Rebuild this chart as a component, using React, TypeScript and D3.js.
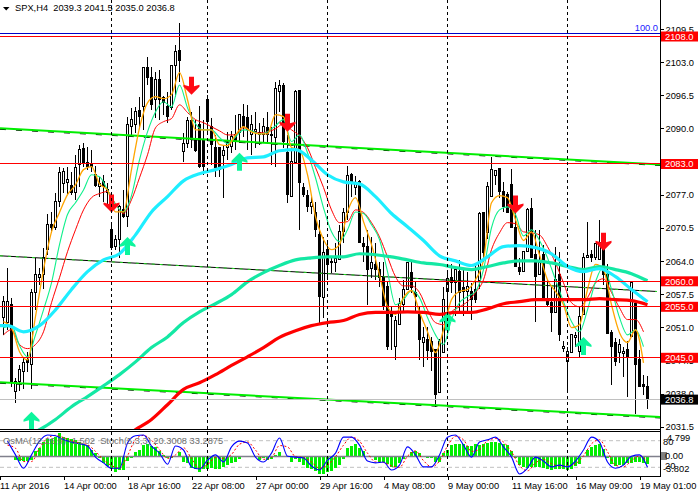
import React, { useEffect, useRef } from "react";
import * as d3 from "d3";

// SPX H4 candles
const opens = [
  2052.9, 2051.9, 2055.4, 2038.4, 2040.3, 2042.3, 2044.6, 2043.7, 2057.8, 2060.7,
  2061.3, 2066.2, 2071.1, 2070.5, 2075.6, 2079.1, 2079.3, 2078.7, 2077.4, 2082.9,
  2086.0, 2083.2, 2082.9, 2080.9, 2078.5, 2079.5, 2077.4, 2070.1, 2066.8, 2068.2,
  2074.0, 2072.7, 2090.3, 2090.7, 2093.4, 2094.2, 2101.9, 2099.9, 2095.6, 2099.5,
  2096.0, 2094.2, 2094.0, 2102.3, 2105.2, 2085.4, 2087.0, 2091.5, 2087.8, 2090.7,
  2087.8, 2095.6, 2090.3, 2086.2, 2086.2, 2084.6, 2086.2, 2086.4, 2088.7, 2089.1,
  2092.3, 2092.1, 2088.7, 2089.3, 2088.7, 2088.7, 2090.1, 2088.7, 2088.3, 2097.2,
  2098.3, 2085.2, 2076.6, 2083.2, 2097.4, 2078.4, 2076.8, 2074.6, 2073.5, 2069.1,
  2056.8, 2066.2, 2063.8, 2063.7, 2064.2, 2069.7, 2073.5, 2080.9, 2078.4, 2079.5,
  2067.4, 2066.8, 2062.5, 2063.3, 2062.3, 2060.7, 2058.9, 2053.9, 2047.2, 2051.5,
  2055.4, 2058.4, 2061.7, 2057.8, 2053.5, 2048.0, 2048.6, 2048.2, 2046.6, 2038.2,
  2046.0, 2058.0, 2060.7, 2059.7, 2061.9, 2058.8, 2058.0, 2058.0, 2058.4, 2060.1,
  2073.5, 2069.5, 2076.6, 2080.7, 2082.1, 2077.6, 2077.0, 2078.9, 2070.5, 2062.7,
  2061.9, 2065.8, 2074.2, 2065.2, 2061.3, 2065.2, 2056.4, 2055.8, 2053.9, 2061.3,
  2046.8, 2044.2, 2046.0, 2048.9, 2046.2, 2053.5, 2064.6, 2065.2, 2064.6, 2064.2,
  2066.2, 2061.3, 2049.9, 2048.0, 2046.0, 2045.8, 2046.6, 2049.1, 2055.6, 2044.6,
  2039.7, 2039.3,
];
const highs = [
  2057.2, 2062.7, 2056.8, 2041.1, 2043.5, 2045.0, 2046.2, 2058.4, 2064.6, 2062.7,
  2066.6, 2073.1, 2073.5, 2077.4, 2082.5, 2082.3, 2082.5, 2081.5, 2084.8, 2086.8,
  2087.2, 2086.4, 2085.8, 2082.7, 2080.5, 2080.9, 2079.3, 2071.7, 2069.1, 2075.0,
  2078.0, 2092.3, 2094.0, 2094.2, 2096.2, 2102.1, 2104.0, 2102.1, 2101.1, 2101.5,
  2096.4, 2097.2, 2102.3, 2106.4, 2110.7, 2089.1, 2092.3, 2093.1, 2091.7, 2094.4,
  2091.7, 2096.6, 2092.1, 2088.7, 2086.4, 2086.8, 2089.3, 2089.5, 2092.7, 2092.7,
  2094.8, 2094.6, 2092.7, 2093.1, 2091.1, 2092.1, 2093.1, 2090.3, 2099.1, 2099.5,
  2098.9, 2088.7, 2086.2, 2097.6, 2097.4, 2079.3, 2078.0, 2076.6, 2075.6, 2072.1,
  2068.7, 2067.6, 2064.8, 2067.6, 2071.1, 2074.4, 2082.7, 2081.3, 2080.7, 2079.9,
  2068.6, 2070.1, 2068.7, 2067.6, 2063.7, 2063.7, 2059.9, 2055.0, 2053.1, 2056.8,
  2060.3, 2063.8, 2063.7, 2059.9, 2055.0, 2051.1, 2051.1, 2049.1, 2046.6, 2048.6,
  2058.9, 2062.3, 2063.3, 2062.7, 2064.2, 2062.3, 2061.9, 2059.7, 2063.3, 2073.6,
  2073.5, 2079.5, 2084.4, 2081.9, 2082.1, 2079.5, 2077.6, 2082.1, 2073.6, 2064.6,
  2065.8, 2074.4, 2076.4, 2070.1, 2070.1, 2067.2, 2060.3, 2058.8, 2066.8, 2065.8,
  2048.2, 2047.2, 2049.5, 2050.1, 2055.0, 2065.6, 2071.7, 2066.2, 2067.4, 2072.1,
  2068.2, 2063.3, 2050.5, 2048.9, 2048.6, 2047.2, 2048.2, 2059.9, 2056.4, 2046.6,
  2041.7, 2041.5,
];
const lows = [
  2049.5, 2050.5, 2039.2, 2036.2, 2038.4, 2038.8, 2042.3, 2038.8, 2054.4, 2059.3,
  2058.4, 2065.2, 2069.5, 2070.1, 2074.6, 2077.4, 2077.2, 2077.0, 2076.0, 2078.5,
  2082.5, 2081.9, 2081.5, 2078.5, 2076.6, 2075.6, 2075.0, 2066.2, 2066.2, 2064.6,
  2072.5, 2070.7, 2088.3, 2089.1, 2090.1, 2089.7, 2098.5, 2093.6, 2092.1, 2091.7,
  2092.7, 2091.1, 2093.6, 2096.2, 2099.1, 2083.4, 2086.2, 2086.2, 2085.4, 2082.3,
  2080.9, 2088.7, 2082.9, 2080.5, 2080.5, 2076.4, 2083.8, 2085.2, 2085.8, 2087.2,
  2088.3, 2085.8, 2084.8, 2086.2, 2086.8, 2087.4, 2087.2, 2082.9, 2082.5, 2093.1,
  2086.2, 2075.4, 2076.6, 2083.2, 2070.1, 2076.6, 2073.5, 2073.1, 2068.7, 2051.9,
  2052.9, 2060.3, 2061.7, 2061.9, 2064.2, 2067.6, 2072.1, 2076.6, 2077.0, 2067.6,
  2063.7, 2055.4, 2060.7, 2060.3, 2058.9, 2054.4, 2046.6, 2046.6, 2044.6, 2051.5,
  2053.9, 2058.4, 2057.8, 2053.9, 2044.6, 2043.1, 2044.6, 2042.5, 2035.4, 2038.2,
  2046.0, 2050.5, 2057.8, 2053.1, 2053.5, 2053.1, 2053.9, 2052.5, 2055.8, 2058.4,
  2063.7, 2068.2, 2076.6, 2078.9, 2076.4, 2073.5, 2073.5, 2070.5, 2062.9, 2061.3,
  2061.9, 2065.8, 2064.6, 2052.1, 2061.3, 2056.4, 2055.0, 2050.1, 2053.9, 2048.2,
  2046.2, 2038.4, 2046.0, 2047.2, 2045.2, 2053.5, 2064.6, 2063.8, 2064.2, 2064.2,
  2059.3, 2049.7, 2039.7, 2043.3, 2044.0, 2041.3, 2037.4, 2049.1, 2033.9, 2039.2,
  2037.8, 2035.0,
];
const closes = [
  2056.0, 2056.0, 2040.3, 2040.3, 2042.7, 2044.1, 2044.1, 2057.8, 2061.3, 2061.3,
  2064.6, 2071.1, 2070.5, 2075.6, 2081.3, 2081.5, 2079.9, 2077.4, 2082.3, 2085.8,
  2083.2, 2082.5, 2082.5, 2078.7, 2079.1, 2078.5, 2078.0, 2066.6, 2068.2, 2074.6,
  2072.7, 2090.7, 2091.7, 2093.2, 2092.3, 2101.9, 2099.9, 2094.6, 2099.5, 2095.6,
  2095.0, 2092.3, 2102.3, 2105.0, 2103.2, 2087.0, 2091.5, 2087.8, 2085.6, 2082.5,
  2082.5, 2091.3, 2086.8, 2082.3, 2081.9, 2085.6, 2087.2, 2088.3, 2087.6, 2092.7,
  2090.3, 2089.7, 2090.7, 2089.7, 2089.1, 2090.3, 2088.7, 2088.5, 2097.9, 2098.3,
  2087.4, 2077.0, 2083.4, 2097.2, 2079.3, 2077.0, 2074.6, 2075.4, 2070.1, 2057.0,
  2065.6, 2063.3, 2063.7, 2064.4, 2069.7, 2073.5, 2080.7, 2079.3, 2079.1, 2067.6,
  2066.8, 2062.3, 2063.7, 2062.3, 2060.7, 2055.0, 2047.2, 2053.1, 2052.3, 2055.6,
  2058.4, 2063.7, 2058.8, 2057.0, 2048.6, 2048.9, 2046.4, 2046.2, 2037.8, 2048.2,
  2056.4, 2060.5, 2059.7, 2062.3, 2057.8, 2058.0, 2058.9, 2056.4, 2056.4, 2073.3,
  2065.6, 2078.5, 2081.9, 2081.7, 2077.6, 2074.6, 2073.5, 2070.5, 2062.9, 2061.9,
  2065.8, 2074.0, 2064.6, 2060.9, 2063.7, 2056.4, 2055.4, 2053.9, 2060.3, 2049.5,
  2047.2, 2046.2, 2049.5, 2049.3, 2053.1, 2064.6, 2065.0, 2064.6, 2067.4, 2067.6,
  2061.3, 2049.7, 2047.2, 2044.2, 2047.6, 2046.2, 2045.0, 2059.7, 2043.7, 2039.3,
  2039.3, 2036.8,
];

// moving averages, thick ones read every 4 bars, thin ones every 2 bars
const maCyan = [
  2051.3, 2051.3, 2050.1, 2051.3, 2054.4, 2058.4, 2061.9, 2064.2, 2065.4, 2069.1,
  2073.6, 2076.6, 2079.7, 2081.1, 2081.9, 2082.9, 2084.2, 2084.4, 2085.6, 2085.8,
  2083.8, 2080.9, 2079.5, 2079.1, 2076.6, 2073.3, 2070.7, 2068.0, 2065.0, 2064.0,
  2063.1, 2064.8, 2066.8, 2067.0, 2066.6, 2065.4, 2062.9, 2061.9, 2062.5, 2060.9,
  2058.4, 2056.0,
];
const maTeal = [
  2029.4, 2030.9, 2032.9, 2035.4, 2037.4, 2039.5, 2041.7, 2044.2, 2047.0, 2049.1,
  2051.9, 2054.0, 2055.6, 2057.4, 2059.9, 2061.7, 2063.1, 2064.2, 2064.6, 2064.8,
  2064.8, 2065.4, 2065.2, 2064.8, 2064.2, 2063.6, 2063.3, 2062.7, 2062.3, 2062.9,
  2063.6, 2064.0, 2064.0, 2063.6, 2062.9, 2062.3, 2062.9, 2062.3, 2061.5, 2060.1,
];
const maRedThick = [
  2028.9, 2030.9, 2032.9, 2035.8, 2038.8, 2040.1, 2041.7, 2043.5, 2045.2, 2047.0,
  2049.0, 2050.3, 2051.3, 2051.9, 2052.3, 2053.5, 2053.9, 2053.9, 2054.0, 2053.9,
  2053.5, 2053.9, 2053.9, 2054.6, 2055.6, 2056.0, 2056.4, 2056.4, 2056.4, 2056.4,
  2056.6, 2056.4, 2056.2, 2055.4,
];
const maOrange = [
  2052.1, 2050.9, 2046.2, 2044.6, 2053.1, 2062.3, 2069.7, 2073.5, 2077.0, 2078.9,
  2081.9, 2082.5, 2079.1, 2077.9, 2073.6, 2073.6, 2081.9, 2090.1, 2095.0, 2096.2,
  2095.8, 2096.6, 2100.9, 2095.6, 2089.7, 2089.7, 2089.7, 2086.8, 2086.6, 2088.7,
  2090.3, 2089.3, 2088.9, 2088.9, 2092.7, 2092.3, 2086.2, 2085.8, 2080.9, 2072.7,
  2068.2, 2066.2, 2067.2, 2073.6, 2076.4, 2071.7, 2067.2, 2061.3, 2055.0, 2053.5,
  2056.8, 2058.2, 2054.0, 2050.1, 2046.0, 2050.5, 2056.4, 2058.0, 2058.4, 2060.3,
  2064.2, 2075.4, 2076.8, 2076.4, 2072.1, 2068.0, 2069.7, 2065.2, 2060.3, 2058.0,
  2055.4, 2050.9, 2051.5, 2058.4, 2063.3, 2062.3, 2055.4, 2049.9, 2048.0, 2050.5,
  2044.0,
];
const maGreen = [
  2050.9, 2051.3, 2047.4, 2045.2, 2049.5, 2054.4, 2059.7, 2067.2, 2073.1, 2075.4,
  2077.9, 2080.9, 2080.5, 2077.9, 2075.0, 2073.6, 2076.8, 2083.8, 2089.3, 2093.2,
  2095.2, 2094.2, 2098.5, 2094.0, 2090.9, 2089.7, 2089.7, 2088.2, 2087.0, 2088.3,
  2089.7, 2089.5, 2088.9, 2089.3, 2090.5, 2091.7, 2087.4, 2088.7, 2085.2, 2080.3,
  2074.4, 2069.7, 2067.8, 2070.1, 2073.6, 2073.3, 2071.1, 2068.2, 2061.9, 2055.4,
  2056.4, 2058.2, 2056.8, 2052.9, 2049.5, 2047.6, 2052.5, 2055.8, 2057.0, 2058.0,
  2062.3, 2070.5, 2074.0, 2074.6, 2073.1, 2068.9, 2070.1, 2068.0, 2064.6, 2060.3,
  2056.0, 2052.1, 2050.1, 2054.4, 2059.9, 2062.9, 2058.4, 2052.9, 2049.5, 2050.5,
  2047.2,
];
const maRedThin = [
  2049.5, 2050.5, 2047.6, 2046.8, 2047.6, 2050.1, 2055.8, 2060.7, 2065.8, 2070.1,
  2074.0, 2076.4, 2077.2, 2077.6, 2075.2, 2073.3, 2076.0, 2080.3, 2084.8, 2090.1,
  2091.3, 2091.9, 2094.6, 2093.1, 2091.7, 2091.1, 2090.3, 2089.5, 2088.7, 2088.7,
  2090.1, 2089.5, 2089.1, 2089.3, 2089.9, 2090.9, 2089.7, 2088.5, 2086.2, 2082.3,
  2078.4, 2074.0, 2071.5, 2071.7, 2074.0, 2073.5, 2071.5, 2068.7, 2064.8, 2060.9,
  2059.1, 2059.1, 2057.8, 2054.4, 2051.9, 2051.5, 2054.0, 2055.0, 2056.0, 2057.8,
  2060.3, 2066.2, 2069.5, 2071.5, 2071.3, 2069.7, 2069.5, 2069.1, 2066.8, 2063.6,
  2059.7, 2055.8, 2055.0, 2056.8, 2059.7, 2060.5, 2057.8, 2054.8, 2052.5, 2052.5,
  2050.1,
];

// OsMA histogram, one value per bar
const osma = [
  0.2, 0.2, 0.0, -0.6, -0.8, -0.8, -0.8, -0.6, 1.0, 1.6,
  2.9, 3.5, 3.5, 3.9, 4.6, 3.9, 3.7, 3.5, 3.3, 2.9,
  2.5, 2.2, 1.2, 0.6, -0.2, -1.2, -1.8, -2.4, -3.1, -2.7,
  -2.7, -0.8, -0.2, 0.8, 1.2, 2.2, 2.4, 2.0, 1.8, 1.0,
  0.4, -0.2, -0.2, 0.2, 0.8, -1.0, -1.2, -2.2, -2.4, -3.1,
  -2.5, -2.5, -2.2, -2.4, -2.4, -2.0, -1.6, -1.2, -1.0, -0.4,
  0, 0, 0, 0, -0.6, -0.2, -0.6, -0.4, 0.4, 0.8,
  0.2, 0, -1.0, -0.4, -1.0, -1.6, -2.2, -2.5, -2.9, -3.5,
  -3.5, -3.1, -2.9, -2.2, -1.6, -0.4, 1.6, 2.0, 2.4, 1.6,
  1.0, 0.2, 0, -0.6, -1.0, -1.0, -1.4, -2.0, -2.0, -1.2,
  -0.4, 0.2, 0.8, 1.0, 0.6, 0, -0.2, -0.2, -1.0, -1.0,
  0.6, 1.2, 2.2, 2.5, 2.5, 2.5, 2.0, 2.0, 2.4, 2.2,
  2.4, 2.7, 2.9, 2.9, 2.7, 2.4, 2.2, 1.0, -0.2, -1.6,
  -2.0, -2.2, -2.0, -2.0, -2.0, -2.2, -2.4, -2.7, -2.4, -2.4,
  -2.5, -2.7, -2.4, -1.8, -1.4, 0, 1.2, 1.8, 2.2, 2.4,
  1.4, -0.2, -1.4, -1.8, -1.6, -1.6, -1.2, -1.2, -1.0, -1.0,
  -1.2, -1.502,
];
// Stochastic, read every 2 bars
const stochMain = [
  79, 48, 18, 48, 79, 93, 91, 82, 77, 73,
  68, 43, 30, 18, 18, 75, 91, 93, 68, 52,
  27, 68, 59, 21, 16, 36, 48, 32, 66, 79,
  75, 43, 32, 52, 86, 45, 43, 41, 23, 14,
  36, 52, 88, 88, 70, 34, 30, 32, 14, 25,
  66, 48, 21, 21, 48, 88, 93, 70, 43, 77,
  82, 88, 66, 43, 5, 18, 43, 34, 21, 25,
  21, 34, 59, 88, 77, 32, 18, 25, 45, 48,
  20.3008,
];
const stochSignal = [
  70, 63, 33, 33, 63, 86, 92, 87, 80, 75,
  71, 56, 37, 24, 18, 46, 83, 92, 81, 60,
  40, 48, 64, 40, 18, 26, 42, 40, 49, 72,
  77, 59, 38, 42, 69, 66, 44, 42, 32, 18,
  25, 44, 70, 88, 79, 52, 32, 31, 23, 20,
  45, 57, 35, 21, 34, 68, 90, 82, 56, 60,
  80, 85, 77, 55, 24, 12, 30, 38, 28, 23,
  23, 28, 46, 73, 82, 55, 25, 21, 35, 46,
  33.2875,
];

const priceTicks = [2109.5, 2103, 2096.5, 2090, 2077, 2070.5, 2064, 2057.5, 2051, 2044.5, 2038, 2031.5];
const timeTickBars = [-1, 15, 31, 47, 63, 79, 95, 111, 127, 143, 159];
const timeTickLabels = [
  "11 Apr 2016", "14 Apr 00:00", "18 Apr 16:00", "22 Apr 08:00", "27 Apr 00:00", "29 Apr 16:00",
  "4 May 08:00", "9 May 00:00", "11 May 16:00", "16 May 09:00", "19 May 01:00",
];
const separatorBars = [27, 51, 81, 111, 141];
const redLevels = [2108, 2083, 2060, 2055, 2045];
const downArrowBars = [27, 47, 71, 128, 150];
const downArrowTips = [2073.5, 2096.6, 2089.3, 2073.3, 2066.0];
const upArrowBars = [7, 31, 59, 111, 145];
const upArrowTips = [2034.4, 2068.7, 2085.2, 2053.9, 2049.1];

const width = 698;
const height = 496;
const plotRight = 660;
const mainBottom = 429;
const oscTop = 432;
const oscBottom = 476;
const fontFamily = "'Liberation Sans', Arial, sans-serif";

const App: React.FC = () => {
  const svgRef = useRef<SVGSVGElement>(null);

  useEffect(() => {
    if (!svgRef.current) return;
    const svg = d3.select(svgRef.current);
    svg.selectAll("*").remove();

    const x = d3.scaleLinear().domain([0, 161]).range([3.5, 647.5]);
    // 5.1 px per point on the price axis
    const y = d3.scaleLinear().domain([2103, 2031.5]).range([62, 426.65]);
    const yOsma = d3.scaleLinear().domain([-3.802, 4.799]).range([oscBottom, oscTop]);
    const yStoch = d3.scaleLinear().domain([20, 80]).range([467.3, 440.7]);
    const snap = (v: number) => Math.round(v - 0.5) + 0.5;

    const defs = svg.append("defs");
    defs.append("clipPath").attr("id", "mainClip").append("rect")
      .attr("width", plotRight).attr("height", mainBottom);
    defs.append("clipPath").attr("id", "oscClip").append("rect")
      .attr("y", oscTop).attr("width", plotRight).attr("height", oscBottom - oscTop);

    svg.append("rect").attr("width", width).attr("height", height).attr("fill", "#fff");

    const main = svg.append("g").attr("clip-path", "url(#mainClip)");
    const osc = svg.append("g").attr("clip-path", "url(#oscClip)");

    // Candles
    const bars = d3.range(opens.length);
    const candles = main.append("g").attr("shape-rendering", "crispEdges");
    candles.selectAll("line").data(bars).join("line")
      .attr("x1", (i) => x(i)).attr("x2", (i) => x(i))
      .attr("y1", (i) => y(highs[i])).attr("y2", (i) => y(lows[i]))
      .attr("stroke", "#000");
    candles.selectAll("rect").data(bars).join("rect")
      .attr("x", (i) => x(i) - 1)
      .attr("width", 2)
      .attr("y", (i) => snap(y(Math.max(opens[i], closes[i]))))
      .attr("height", (i) => Math.max(1, Math.round(Math.abs(y(opens[i]) - y(closes[i])))))
      .attr("fill", (i) => (closes[i] > opens[i] ? "#fff" : "#000"))
      .attr("stroke", "#000");

    // Trend lines
    const trend = (y1: number, y2: number, thick: boolean, xEnd = plotRight) => {
      const g = main.append("g");
      const line = g.append("line").attr("x1", 0).attr("x2", xEnd)
        .attr("y1", y(y1)).attr("y2", y(y2));
      if (thick) {
        g.append("line").attr("x1", 0).attr("x2", xEnd)
          .attr("y1", y(y1) + 1).attr("y2", y(y2) + 1)
          .attr("stroke", "#000").attr("stroke-dasharray", "6,10");
        line.attr("stroke", "#00ee00").attr("stroke-width", 2).raise();
      } else {
        line.attr("stroke", "#000").attr("stroke-width", 1);
        g.append("line").attr("x1", 0).attr("x2", xEnd)
          .attr("y1", y(y1)).attr("y2", y(y2))
          .attr("stroke", "#22dd22").attr("stroke-dasharray", "3,5");
      }
    };
    trend(2090.0, 2082.9, true);
    trend(2065.0, 2058.0, false, 657);
    trend(2040.2, 2033.4, true);

    // Moving averages, each series stepping back from its last bar
    const drawSeries = (
      parent: d3.Selection<SVGGElement, unknown, null, undefined>,
      values: number[],
      lastBar: number,
      step: number,
      scale: (v: number) => number,
      color: string,
      lineWidth: number,
      dash?: string,
      curve: d3.CurveFactory = d3.curveMonotoneX
    ) => {
      const path = d3
        .line<number>()
        .x((_, j) => x(lastBar - step * (values.length - 1 - j)))
        .y((d) => scale(d))
        .curve(curve);
      parent.append("path").attr("d", path(values)).attr("fill", "none")
        .attr("stroke", color).attr("stroke-width", lineWidth)
        .attr("stroke-dasharray", dash ?? null);
    };
    drawSeries(main, maRedThin, 160, 2, y, "#ff0000", 1);
    drawSeries(main, maGreen, 160, 2, y, "#10f08c", 1.1);
    drawSeries(main, maOrange, 160, 2, y, "#ffa500", 1.3);
    drawSeries(main, maRedThick, 161, 4, y, "#ff0000", 3.2);
    drawSeries(main, maTeal, 161, 4, y, "#14e8a4", 3.2);
    drawSeries(main, maCyan, 161, 4, y, "#1eeeff", 3.2);

    // Horizontal levels
    const levels = main.append("g").attr("shape-rendering", "crispEdges");
    levels.selectAll("line").data(redLevels).join("line")
      .attr("x1", 0).attr("x2", plotRight)
      .attr("y1", (d) => snap(y(d))).attr("y2", (d) => snap(y(d)))
      .attr("stroke", "#ff0000");
    levels.append("line").attr("x1", 0).attr("x2", plotRight)
      .attr("y1", snap(y(2108.6))).attr("y2", snap(y(2108.6)))
      .attr("stroke", "#0000c8");
    levels.append("line").attr("x1", 0).attr("x2", plotRight)
      .attr("y1", snap(y(2036.8))).attr("y2", snap(y(2036.8)))
      .attr("stroke", "#c0c0c0");
    main.append("text").attr("x", 658).attr("y", 31).attr("text-anchor", "end")
      .attr("font-family", fontFamily).attr("font-size", 9.3).attr("fill", "#2222ff").text("100.0");

    // Arrows, drawn from their tip
    const arrowPoints: [number, number][] = [
      [0, 0], [8, -8], [8, -10], [2.5, -8.5], [2.5, -18], [-2.5, -18], [-2.5, -8.5], [-8, -10], [-8, -8],
    ];
    const arrowPath = d3.line()(arrowPoints) + "Z";
    main.append("g").selectAll("path").data(downArrowBars).join("path")
      .attr("d", arrowPath).attr("fill", "#ff0a14")
      .attr("transform", (b, i) => `translate(${x(b)},${y(downArrowTips[i])})`);
    main.append("g").selectAll("path").data(upArrowBars).join("path")
      .attr("d", arrowPath).attr("fill", "#0cf59c")
      .attr("transform", (b, i) => `translate(${x(b)},${y(upArrowTips[i])}) scale(1,-1)`);

    // Oscillator window
    osc.append("g").selectAll("line").data([80, 20]).join("line")
      .attr("x1", 0).attr("x2", plotRight)
      .attr("y1", (d) => yStoch(d)).attr("y2", (d) => yStoch(d))
      .attr("stroke", "#c0c0c0").attr("stroke-dasharray", "4,3");
    osc.append("g").attr("shape-rendering", "crispEdges").selectAll("rect").data(bars).join("rect")
      .attr("x", (i) => x(i) - 1.5)
      .attr("width", 3)
      .attr("y", (i) => Math.min(yOsma(osma[i]), yOsma(0)))
      .attr("height", (i) => Math.abs(yOsma(osma[i]) - yOsma(0)))
      .attr("fill", "#00f000");
    osc.append("line").attr("x1", 0).attr("x2", plotRight)
      .attr("y1", yOsma(0)).attr("y2", yOsma(0))
      .attr("stroke", "#80808c").attr("stroke-width", 1.4);
    drawSeries(osc, stochSignal, 161, 2, yStoch, "#ff0000", 1, "2,2");
    drawSeries(osc, stochMain, 161, 2, yStoch, "#0000ff", 1.1);
    svg.append("text").attr("x", 3).attr("y", 444)
      .attr("font-family", fontFamily).attr("font-size", 9.3).attr("fill", "#6e6e6e")
      .attr("xml:space", "preserve")
      .text("OsMA(12,26,9) -1.502  Stoch(5,3,3) 20.3008 33.2875");

    // Session separators cross both windows
    svg.append("g").attr("shape-rendering", "crispEdges").selectAll("line").data(separatorBars).join("line")
      .attr("x1", (b) => x(b)).attr("x2", (b) => x(b))
      .attr("y1", 0).attr("y2", oscBottom)
      .attr("stroke", "#000").attr("stroke-dasharray", "3,3");

    // Window frames
    const frame = svg.append("g").attr("shape-rendering", "crispEdges").attr("stroke", "#000");
    frame.append("line").attr("x1", 0).attr("x2", plotRight).attr("y1", 429.5).attr("y2", 429.5);
    frame.append("line").attr("x1", 0).attr("x2", plotRight).attr("y1", 431.5).attr("y2", 431.5);
    frame.append("line").attr("x1", 0).attr("x2", plotRight).attr("y1", oscBottom + 0.5).attr("y2", oscBottom + 0.5);
    frame.append("line").attr("x1", plotRight + 0.5).attr("x2", plotRight + 0.5).attr("y1", 0).attr("y2", oscBottom + 1);

    // Price axis
    const priceAxis = svg.append("g")
      .attr("transform", `translate(${plotRight + 0.5},0)`)
      .call(d3.axisRight(y).tickValues(priceTicks).tickSize(3).tickFormat((d) => d3.format(".1f")(d as number)))
      .call((g) => g.select(".domain").remove());
    priceAxis.selectAll("text").attr("x", 5).attr("dy", "0.34em")
      .attr("font-family", fontFamily).attr("font-size", 9.3).attr("fill", "#000");
    priceAxis.selectAll("line").attr("shape-rendering", "crispEdges");

    // Time axis
    const timeAxis = svg.append("g")
      .attr("transform", `translate(0,${oscBottom + 0.5})`)
      .call(d3.axisBottom(x).tickValues(timeTickBars).tickSize(3).tickFormat((_, i) => timeTickLabels[i]))
      .call((g) => g.select(".domain").remove());
    timeAxis.selectAll("text").attr("x", 0).attr("y", 12).attr("dy", 0).attr("text-anchor", "start")
      .attr("font-family", fontFamily).attr("font-size", 9.3).attr("fill", "#000");
    timeAxis.selectAll("line").attr("shape-rendering", "crispEdges");

    // Oscillator scale labels
    const oscLabels: [string, number, number][] = [
      ["4.799", 667, 441], ["80", 663, 445], ["0.00", 665, 459], ["20", 665, 469], ["-3.802", 663, 472],
    ];
    svg.append("rect").attr("x", 661).attr("y", 452).attr("width", 6).attr("height", 8).attr("fill", "#808080");
    svg.append("g").selectAll("text").data(oscLabels).join("text")
      .attr("x", (d) => d[1]).attr("y", (d) => d[2])
      .attr("font-family", fontFamily).attr("font-size", 9.3).attr("fill", "#000")
      .text((d) => d[0]);

    // Price tags
    const tags = svg.append("g");
    redLevels.forEach((level) => {
      tags.append("rect").attr("x", 661).attr("y", y(level) - 5).attr("width", 37).attr("height", 10).attr("fill", "#ff0000");
      tags.append("text").attr("x", 665).attr("y", y(level) + 3.4).attr("fill", "#fff")
        .attr("font-family", fontFamily).attr("font-size", 9.3).text(level.toFixed(1));
    });
    tags.append("rect").attr("x", 661).attr("y", y(2036.8) - 5).attr("width", 37).attr("height", 10).attr("fill", "#000");
    tags.append("text").attr("x", 665).attr("y", y(2036.8) + 3.4).attr("fill", "#fff")
      .attr("font-family", fontFamily).attr("font-size", 9.3).text("2036.8");

    // Header
    svg.append("path").attr("d", "M3,7L9.5,7L6.2,10.5Z").attr("fill", "#000");
    svg.append("text").attr("x", 15).attr("y", 11)
      .attr("font-family", fontFamily).attr("font-size", 9.3).attr("fill", "#000")
      .attr("xml:space", "preserve")
      .text("SPX,H4  2039.3 2041.5 2035.0 2036.8");
  }, []);

  return (
    <svg
      ref={svgRef}
      width={width}
      height={height}
      style={{ position: "absolute", left: 0, top: 0, display: "block" }}
    />
  );
};

export default App;
